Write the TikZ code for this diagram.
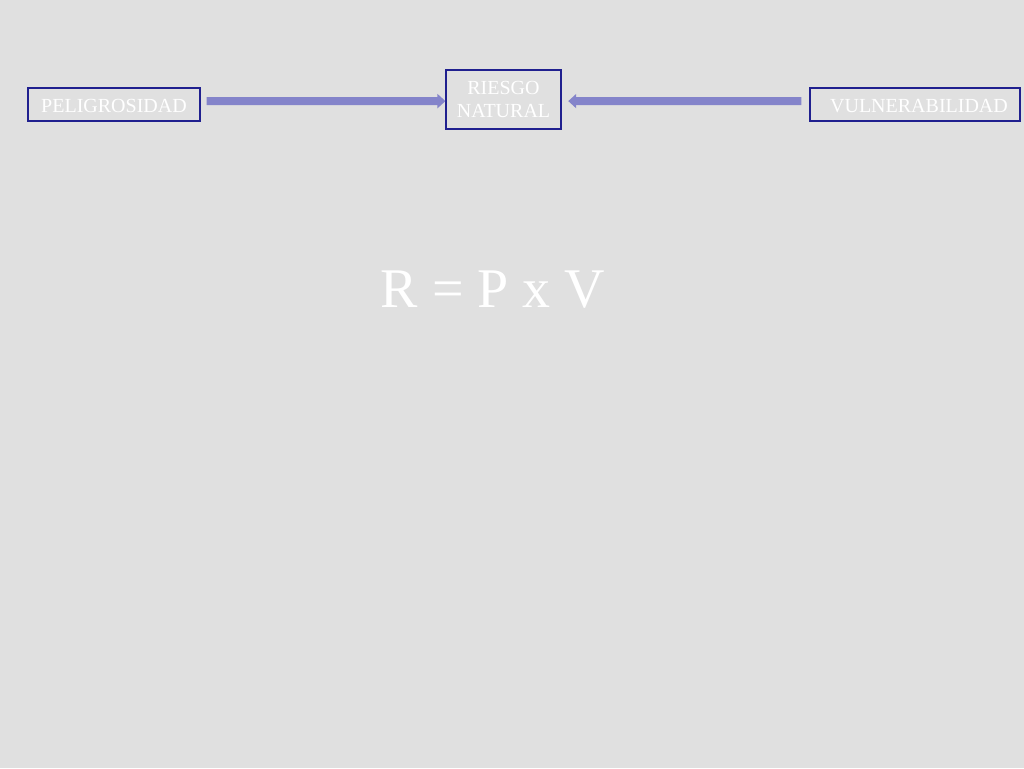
\documentclass[tikz,border=0pt]{standalone}
\usepackage{fontspec}
\setmainfont{Liberation Serif}
\usetikzlibrary{arrows.meta}
\definecolor{slidebg}{HTML}{E0E0E0}
\definecolor{boxline}{HTML}{20208F}
\definecolor{flowblue}{HTML}{8484CA}
\tikzset{
    every node/.append style={font=\fontsize{15}{17.5}\selectfont, text=white},
    termbox/.style={draw=boxline, line width=1.1pt, inner sep=0pt, align=center},
    flow/.style={flowblue, line width=6pt, -{Triangle[length=6pt,width=10.5pt]}},
}
\begin{document}
\begin{tikzpicture}[x=0.75pt,y=-0.75pt]
  \fill[slidebg] (0,0) rectangle (1024,768);
  \useasboundingbox (0,0) rectangle (1024,768);

  % boxes
  \node[termbox, minimum width=129pt, minimum height=24.75pt, text height=12pt, text depth=0pt] (peli) at (114,104.5) {PELIGROSIDAD};
  \node[termbox, minimum width=86pt, minimum height=44pt] (riesgo) at (503.5,99.5) {RIESGO\\NATURAL};
  \node[termbox, minimum width=157.5pt, minimum height=24.75pt, text height=12pt, text depth=0pt] (vulner) at (915,104.5) {\hspace*{6pt}VULNERABILIDAD};

  % arrows
  \draw[flow, shorten <=4.5pt] ([yshift=2.6pt]peli.east) -- ([yshift=-1.2pt]riesgo.west);
  \draw[flow, shorten <=6pt, shorten >=5pt] ([yshift=2.6pt]vulner.west) -- ([yshift=-1.2pt]riesgo.east);

  % formula
  \node[font=\fontsize{42}{50}\selectfont, anchor=base] (formula) at (493,307) {R = P x V};
\end{tikzpicture}
\end{document}
